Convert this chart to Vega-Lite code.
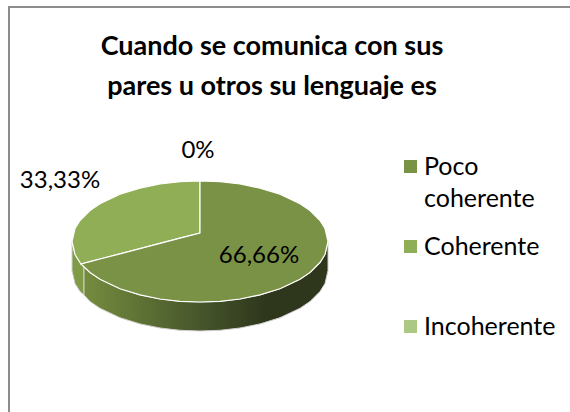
{
"$schema":"https://vega.github.io/schema/vega-lite/v6.json",
"width":570,"height":412,"padding":0,"autosize":{"type":"none"},
"background":"white","view":{"stroke":null},
"title":{"text":["Cuando se comunica con sus","pares u otros su  lenguaje es"],"font":"Lato","fontSize":27,"fontWeight":"bold","color":"#000000","lineHeight":40,"anchor":"middle","dx":-13,"offset":-101,"baseline":"top"},
"datasets":{
"frame":[{"x":9,"x2":600,"y":7,"y2":430}],
"sideLeft":[{"x":72,"y":241.5,"y2":270.5},{"x":75,"y":254.5,"y2":283.5},{"x":80,"y":262.5,"y2":291.5},{"x":84,"y":266,"y2":295}],
"sideDark":[{"x":84,"y":266,"y2":295},{"x":90,"y":272.5,"y2":301.5},{"x":100,"y":279.3,"y2":308.3},{"x":120,"y":288.7,"y2":317.7},{"x":140,"y":294.9,"y2":323.9},{"x":160,"y":299,"y2":328},{"x":180,"y":301.3,"y2":330.3},{"x":200,"y":302,"y2":331},{"x":220,"y":301.3,"y2":330.3},{"x":240,"y":299,"y2":328},{"x":260,"y":294.9,"y2":323.9},{"x":280,"y":288.7,"y2":317.7},{"x":300,"y":279.3,"y2":308.3},{"x":310,"y":272.5,"y2":301.5},{"x":320,"y":262.5,"y2":291.5},{"x":325,"y":254.5,"y2":283.5},{"x":328,"y":241.5,"y2":270.5}],
"disc":[
{"s":"Coherente","x":72,"y":241.5,"y2":241.5},{"s":"Coherente","x":75,"y":228.5,"y2":254.5},{"s":"Coherente","x":80,"y":220.5,"y2":262.5},{"s":"Coherente","x":81,"y":219.5,"y2":264},{"s":"Coherente","x":90,"y":210.5,"y2":261.7},{"s":"Coherente","x":100,"y":203.7,"y2":259},{"s":"Coherente","x":120,"y":194.3,"y2":253.8},{"s":"Coherente","x":140,"y":188.1,"y2":248.6},{"s":"Coherente","x":160,"y":184,"y2":243.4},{"s":"Coherente","x":180,"y":181.7,"y2":238.2},{"s":"Coherente","x":200,"y":181,"y2":233},
{"s":"Poco coherente","x":81,"y":264,"y2":264},{"s":"Poco coherente","x":90,"y":261.7,"y2":272.5},{"s":"Poco coherente","x":100,"y":259,"y2":279.3},{"s":"Poco coherente","x":120,"y":253.8,"y2":288.7},{"s":"Poco coherente","x":140,"y":248.6,"y2":294.9},{"s":"Poco coherente","x":160,"y":243.4,"y2":299},{"s":"Poco coherente","x":180,"y":238.2,"y2":301.3},{"s":"Poco coherente","x":200,"y":233,"y2":302},{"s":"Poco coherente","x":200.01,"y":181,"y2":302},{"s":"Poco coherente","x":220,"y":181.7,"y2":301.3},{"s":"Poco coherente","x":240,"y":184,"y2":299},{"s":"Poco coherente","x":260,"y":188.1,"y2":294.9},{"s":"Poco coherente","x":280,"y":194.3,"y2":288.7},{"s":"Poco coherente","x":300,"y":203.7,"y2":279.3},{"s":"Poco coherente","x":310,"y":210.5,"y2":272.5},{"s":"Poco coherente","x":320,"y":220.5,"y2":262.5},{"s":"Poco coherente","x":325,"y":228.5,"y2":254.5},{"s":"Poco coherente","x":328,"y":241.5,"y2":241.5}
],
"labels":[{"x":198,"y":151,"t":"0%"},{"x":60,"y":181,"t":"33,33%"},{"x":259,"y":256,"t":"66,66%"}]
},
"encoding":{"x":{"field":"x","type":"quantitative","scale":{"domain":[0,570],"range":[0,570],"nice":false},"axis":null},"y":{"field":"y","type":"quantitative","stack":null,"scale":{"domain":[0,412],"range":[0,412],"nice":false},"axis":null}},
"layer":[
{"data":{"name":"frame"},"mark":{"type":"rect","fill":"white","stroke":"#8c8c8c","strokeWidth":2,"clip":true},
"encoding":{"x2":{"field":"x2"},"y2":{"field":"y2"}}},
{"data":{"name":"sideLeft"},"mark":{"type":"area","color":"#7f9b45","stroke":"#d0d0d0","strokeWidth":1},
"encoding":{"y2":{"field":"y2"}}},
{"data":{"name":"sideDark"},"mark":{"type":"area","color":{"gradient":"linear","x1":0,"y1":0,"x2":1,"y2":0,"stops":[{"offset":0,"color":"#758c3e"},{"offset":0.5,"color":"#44532a"},{"offset":0.75,"color":"#2e361b"},{"offset":1,"color":"#2e361b"}]},"stroke":"#d0d0d0","strokeWidth":1},
"encoding":{"y2":{"field":"y2"}}},
{"data":{"name":"disc"},"mark":{"type":"area","orient":"vertical","opacity":1,"stroke":"white","strokeWidth":1.2},
"encoding":{"y2":{"field":"y2"},
"fill":{"field":"s","type":"nominal","scale":{"domain":["Poco coherente","Coherente","Incoherente"],"range":["#7a9245","#90ae55","#adc785"]},
"legend":{"orient":"none","legendX":398,"legendY":154,"title":null,"symbolType":"square","symbolSize":170,"symbolStrokeWidth":0,"symbolOpacity":1,"labelFont":"Lato","labelFontSize":25,"labelColor":"#000000","labelLimit":170,"labelOffset":1,"gridAlign":"all","rowPadding":22,"encoding":{"labels":{"lineHeight":{"value":32}}},"labelExpr":"datum.label=='Poco coherente'?['Poco','coherente']:datum.label"}}}},
{"data":{"name":"labels"},"mark":{"type":"text","font":"Lato","fontSize":24,"color":"#000000","baseline":"middle","align":"center"},
"encoding":{"text":{"field":"t"}}}
]
}
